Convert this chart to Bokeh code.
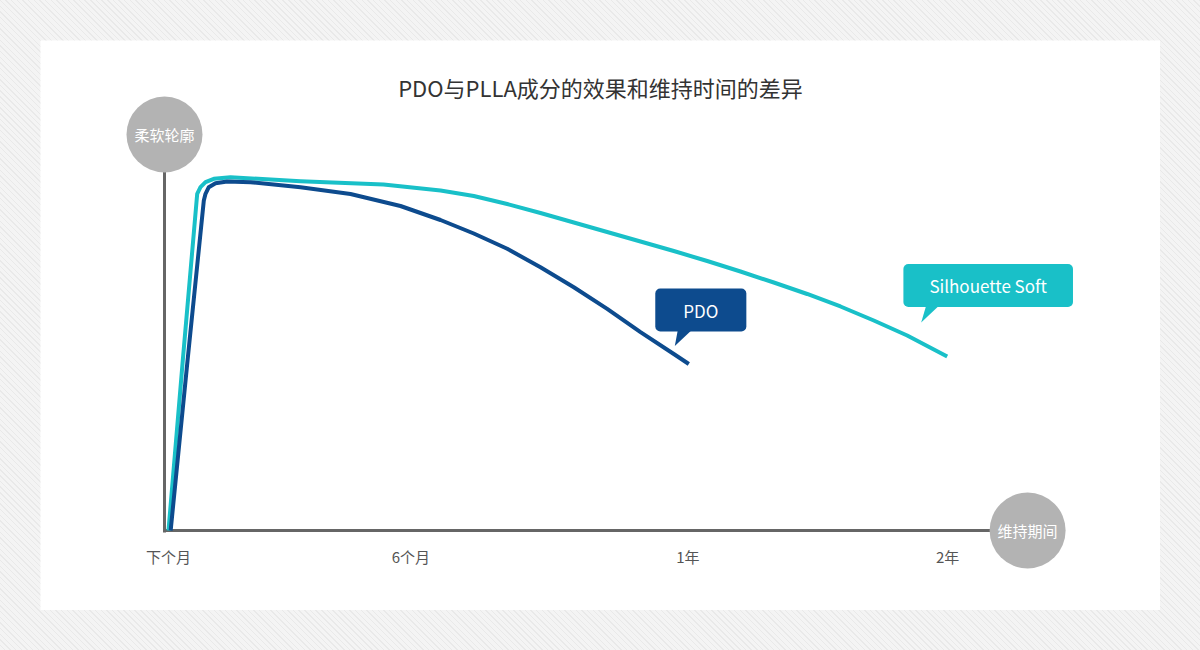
from bokeh.core.properties import value
from bokeh.embed import file_html
from bokeh.layouts import column, row
from bokeh.models import FixedTicker, Label, LinearAxis, Range1d, Spacer
from bokeh.plotting import figure
from bokeh.resources import INLINE

# time position (display units, 下个月 -> 2年) and effect level (0..100)
pdo_x = [0.05, 0.44, 0.816, 0.855, 0.931, 1.086, 1.356, 1.895, 3.05, 4.205, 5.36, 6.285,
         7.054, 7.826, 8.595, 9.365, 10.136, 10.906, 11.675, 12.022]
pdo_y = [0, 48.3, 93.75, 95.65, 97.53, 98.66, 99.15, 98.95, 97.53, 95.6, 92.19, 88.21,
         84.38, 80.03, 74.8, 69.12, 62.98, 56.34, 50.14, 47.3]

soft_x = [0, 0.33, 0.663, 0.739, 0.855, 1.047, 1.433, 3.05, 4.968, 6.285, 7.054, 7.826,
          8.595, 9.365, 10.136, 10.906, 11.675, 12.447, 13.216, 13.986, 14.757, 15.527,
          16.296, 17.068, 17.992]
soft_y = [0, 48.3, 95.65, 97.53, 98.95, 99.91, 100.37, 99.23, 98.3, 96.59, 95.03, 92.76,
          90.2, 87.5, 84.8, 82.1, 79.4, 76.56, 73.58, 70.45, 67.19, 63.64,
          59.66, 55.4, 49.43]

tick_pos = [0, 5.6, 12, 18]
tick_labels = ["下个月", "6个月", "1年", "2年"]

title = "PDO与PLLA成分的效果和维持时间的差异"
y_name = "柔软轮廓"
x_name = "维持期间"

FONT = "Noto Sans CJK SC"
PDO_COLOR = "#0d4b8e"
SOFT_COLOR = "#19c0c8"
AXIS_COLOR = "#666666"
BADGE_COLOR = "#b3b3b3"

W, H = 1120, 570
ORIGIN_X, ORIGIN_Y = 128, 490      # pixel position of (0, 0) inside the figure
PX_X, PX_Y = 43.28, 3.52           # pixels per data unit

p = figure(width=W, height=H,
           x_range=Range1d(-ORIGIN_X / PX_X, (W - ORIGIN_X) / PX_X),
           y_range=Range1d(-(H - ORIGIN_Y) / PX_Y, ORIGIN_Y / PX_Y),
           x_axis_location=None, y_axis_location=None,
           toolbar_location=None, output_backend="svg", min_border=0,
           background_fill_color="white", border_fill_color="white",
           outline_line_color=None)
p.grid.grid_line_color = None

y_axis_at = -4 / PX_X
y_axis_top = 112.5
x_axis_end = 19.85

xaxis = LinearAxis(fixed_location=0, bounds=(y_axis_at - 1.5 / PX_X, x_axis_end),
                   ticker=FixedTicker(ticks=tick_pos),
                   major_label_overrides=dict(zip(tick_pos, tick_labels)),
                   axis_line_color=AXIS_COLOR, axis_line_width=3,
                   major_tick_line_color=None, minor_tick_line_color=None,
                   major_label_standoff=9, major_label_text_font=FONT,
                   major_label_text_font_size="15px", major_label_text_color="#555555",
                   level="underlay")
p.add_layout(xaxis, "below")

yaxis = LinearAxis(fixed_location=y_axis_at, bounds=(-1.5 / PX_Y, y_axis_top),
                   ticker=FixedTicker(ticks=[]),
                   axis_line_color=AXIS_COLOR, axis_line_width=3,
                   major_tick_line_color=None, minor_tick_line_color=None,
                   major_label_text_font_size="0px", level="underlay")
p.add_layout(yaxis, "left")

p.line(soft_x, soft_y, line_color=SOFT_COLOR, line_width=4, line_join="round")
p.line(pdo_x, pdo_y, line_color=PDO_COLOR, line_width=4, line_join="round")

# axis name badges
p.scatter([y_axis_at, x_axis_end], [y_axis_top, 0], marker="circle", size=76,
          fill_color=BADGE_COLOR, line_color=None)
p.text([y_axis_at, x_axis_end], [y_axis_top, 0], text=[y_name, x_name],
       text_font=value(FONT), text_font_size="15px", text_color="white",
       text_align="center", text_baseline="middle")


def pointer(xe, ye, offsets):
    # speech-bubble tail, offsets in pixels from the series end point
    return [xe + dx / PX_X for dx, dy in offsets], [ye + dy / PX_Y for dx, dy in offsets]


tails = [pointer(pdo_x[-1], pdo_y[-1], [(-11, 34), (3, 34), (-14, 18)]),
         pointer(soft_x[-1], soft_y[-1], [(-21, 51), (-8, 51), (-26, 34)])]
p.patches([t[0] for t in tails], [t[1] for t in tails],
          fill_color=[PDO_COLOR, SOFT_COLOR], line_color=None)

p.add_layout(Label(x=pdo_x[-1], y=pdo_y[-1], x_offset=12, y_offset=54, text="PDO",
                   text_align="center", text_baseline="middle", text_font=FONT,
                   text_font_size="17px", text_color="white",
                   background_fill_color=PDO_COLOR, border_radius=5,
                   padding=(28, 28, 9, 9)))
p.add_layout(Label(x=soft_x[-1], y=soft_y[-1], x_offset=41, y_offset=71,
                   text="Silhouette Soft",
                   text_align="center", text_baseline="middle", text_font=FONT,
                   text_font_size="17px", text_color="white",
                   background_fill_color=SOFT_COLOR, border_radius=5,
                   padding=(26, 26, 9, 9)))

p.add_layout(Label(x=W / 2, y=H - 46, x_units="screen", y_units="screen", text=title,
                   text_align="center", text_baseline="middle", text_font=FONT,
                   text_font_size="22px", text_color="#333333"))

stripes = ("repeating-linear-gradient(45deg, #f4f4f4 0px, #f4f4f4 3px, "
           "#e9e9e9 3px, #e9e9e9 4px)")
page = column(Spacer(width=1200, height=40), row(Spacer(width=40, height=H), p),
              width=1200, height=650, styles={"background": stripes})

open("out.html", "w").write(file_html(page, INLINE, title="PDO vs PLLA"))
